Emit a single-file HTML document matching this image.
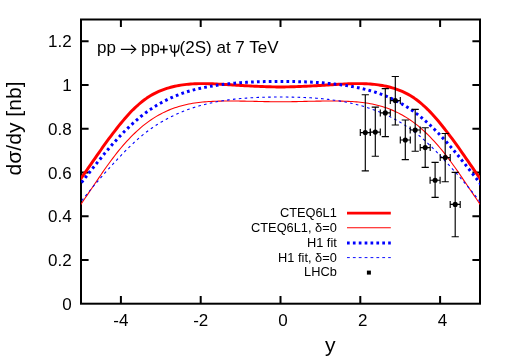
<!DOCTYPE html>
<html><head><meta charset="utf-8"><title>plot</title>
<style>html,body{margin:0;padding:0;background:#fff;overflow:hidden}svg{display:block;will-change:transform}text{font-family:"Liberation Sans",sans-serif;fill:#000}.s{font-family:"Liberation Serif",serif}</style>
</head><body>
<svg width="510" height="357" viewBox="0 0 510 357">
<rect x="0" y="0" width="510" height="357" fill="#fff"/>
<defs><clipPath id="c"><rect x="81.0" y="19.5" width="399.0" height="284.2"/></clipPath></defs>
<g stroke="#000" stroke-width="2" fill="none" stroke-linecap="butt">
<rect x="81.0" y="19.5" width="399.0" height="284.2"/>
<path d="M120.90,303.7 V296.09999999999997 M120.90,19.5 V27.1 M200.70,303.7 V296.09999999999997 M200.70,19.5 V27.1 M280.50,303.7 V296.09999999999997 M280.50,19.5 V27.1 M360.30,303.7 V296.09999999999997 M360.30,19.5 V27.1 M440.10,303.7 V296.09999999999997 M440.10,19.5 V27.1 M81.0,259.98 H88.6 M480.0,259.98 H472.4 M81.0,216.25 H88.6 M480.0,216.25 H472.4 M81.0,172.53 H88.6 M480.0,172.53 H472.4 M81.0,128.81 H88.6 M480.0,128.81 H472.4 M81.0,85.08 H88.6 M480.0,85.08 H472.4 M81.0,41.36 H88.6 M480.0,41.36 H472.4"/>
</g>
<g clip-path="url(#c)" fill="none" stroke-linejoin="round">
<path d="M77.0,184.07 L81.0,178.40 L83.0,175.57 L85.0,172.72 L87.0,169.85 L89.0,166.96 L91.0,164.07 L93.0,161.18 L95.0,158.30 L97.0,155.43 L99.0,152.58 L101.0,149.75 L102.9,146.95 L104.9,144.17 L106.9,141.43 L108.9,138.71 L110.9,136.03 L112.9,133.39 L114.9,130.79 L116.9,128.22 L118.9,125.70 L120.9,123.23 L122.9,120.82 L124.9,118.46 L126.9,116.18 L128.9,113.97 L130.9,111.85 L132.9,109.82 L134.9,107.88 L136.9,106.02 L138.9,104.26 L140.8,102.58 L142.8,100.99 L144.8,99.50 L146.8,98.09 L148.8,96.77 L150.8,95.54 L152.8,94.39 L154.8,93.33 L156.8,92.34 L158.8,91.42 L160.8,90.58 L162.8,89.80 L164.8,89.08 L166.8,88.42 L168.8,87.81 L170.8,87.26 L172.8,86.76 L174.8,86.30 L176.8,85.88 L178.8,85.51 L180.8,85.17 L182.7,84.87 L184.7,84.61 L186.7,84.38 L188.7,84.19 L190.7,84.03 L192.7,83.89 L194.7,83.79 L196.7,83.71 L198.7,83.65 L200.7,83.62 L202.7,83.61 L204.7,83.62 L206.7,83.65 L208.7,83.69 L210.7,83.75 L212.7,83.82 L214.7,83.90 L216.7,83.99 L218.7,84.10 L220.7,84.20 L222.6,84.32 L224.6,84.43 L226.6,84.55 L228.6,84.67 L230.6,84.80 L232.6,84.92 L234.6,85.04 L236.6,85.17 L238.6,85.29 L240.6,85.41 L242.6,85.54 L244.6,85.66 L246.6,85.77 L248.6,85.89 L250.6,86.00 L252.6,86.11 L254.6,86.21 L256.6,86.31 L258.6,86.40 L260.6,86.49 L262.5,86.57 L264.5,86.64 L266.5,86.71 L268.5,86.77 L270.5,86.82 L272.5,86.87 L274.5,86.90 L276.5,86.93 L278.5,86.94 L280.5,86.95 L282.5,86.94 L284.5,86.93 L286.5,86.90 L288.5,86.87 L290.5,86.82 L292.5,86.77 L294.5,86.71 L296.5,86.64 L298.5,86.57 L300.5,86.49 L302.4,86.40 L304.4,86.31 L306.4,86.21 L308.4,86.11 L310.4,86.00 L312.4,85.89 L314.4,85.77 L316.4,85.66 L318.4,85.54 L320.4,85.41 L322.4,85.29 L324.4,85.17 L326.4,85.04 L328.4,84.92 L330.4,84.80 L332.4,84.67 L334.4,84.55 L336.4,84.43 L338.4,84.32 L340.4,84.20 L342.3,84.10 L344.3,83.99 L346.3,83.90 L348.3,83.82 L350.3,83.75 L352.3,83.69 L354.3,83.65 L356.3,83.62 L358.3,83.61 L360.3,83.62 L362.3,83.65 L364.3,83.71 L366.3,83.79 L368.3,83.89 L370.3,84.03 L372.3,84.19 L374.3,84.38 L376.3,84.61 L378.3,84.87 L380.2,85.17 L382.2,85.51 L384.2,85.88 L386.2,86.30 L388.2,86.76 L390.2,87.26 L392.2,87.81 L394.2,88.42 L396.2,89.08 L398.2,89.80 L400.2,90.58 L402.2,91.42 L404.2,92.34 L406.2,93.33 L408.2,94.39 L410.2,95.54 L412.2,96.77 L414.2,98.09 L416.2,99.50 L418.2,100.99 L420.2,102.58 L422.1,104.26 L424.1,106.02 L426.1,107.88 L428.1,109.82 L430.1,111.85 L432.1,113.97 L434.1,116.18 L436.1,118.46 L438.1,120.82 L440.1,123.23 L442.1,125.70 L444.1,128.22 L446.1,130.79 L448.1,133.39 L450.1,136.03 L452.1,138.71 L454.1,141.43 L456.1,144.17 L458.1,146.95 L460.1,149.75 L462.0,152.58 L464.0,155.43 L466.0,158.30 L468.0,161.18 L470.0,164.07 L472.0,166.96 L474.0,169.85 L476.0,172.72 L478.0,175.57 L480.0,178.40 L484.0,184.07" stroke="#ff0000" stroke-width="2.95"/>
<path d="M77.0,210.01 L81.0,204.16 L83.0,201.24 L85.0,198.30 L87.0,195.35 L89.0,192.40 L91.0,189.44 L93.0,186.48 L95.0,183.53 L97.0,180.59 L99.0,177.66 L101.0,174.76 L102.9,171.89 L104.9,169.04 L106.9,166.23 L108.9,163.47 L110.9,160.75 L112.9,158.07 L114.9,155.46 L116.9,152.90 L118.9,150.41 L120.9,147.99 L122.9,145.64 L124.9,143.36 L126.9,141.15 L128.9,139.01 L130.9,136.94 L132.9,134.94 L134.9,133.00 L136.9,131.14 L138.9,129.34 L140.8,127.61 L142.8,125.94 L144.8,124.35 L146.8,122.82 L148.8,121.35 L150.8,119.96 L152.8,118.62 L154.8,117.35 L156.8,116.15 L158.8,115.00 L160.8,113.91 L162.8,112.88 L164.8,111.91 L166.8,110.99 L168.8,110.13 L170.8,109.32 L172.8,108.55 L174.8,107.84 L176.8,107.17 L178.8,106.55 L180.8,105.97 L182.7,105.44 L184.7,104.94 L186.7,104.49 L188.7,104.07 L190.7,103.68 L192.7,103.33 L194.7,103.02 L196.7,102.73 L198.7,102.47 L200.7,102.24 L202.7,102.04 L204.7,101.86 L206.7,101.70 L208.7,101.56 L210.7,101.45 L212.7,101.35 L214.7,101.26 L216.7,101.19 L218.7,101.14 L220.7,101.09 L222.6,101.06 L224.6,101.03 L226.6,101.01 L228.6,101.00 L230.6,101.00 L232.6,101.01 L234.6,101.02 L236.6,101.04 L238.6,101.06 L240.6,101.09 L242.6,101.12 L244.6,101.15 L246.6,101.19 L248.6,101.23 L250.6,101.28 L252.6,101.32 L254.6,101.37 L256.6,101.41 L258.6,101.46 L260.6,101.50 L262.5,101.54 L264.5,101.58 L266.5,101.62 L268.5,101.65 L270.5,101.69 L272.5,101.71 L274.5,101.73 L276.5,101.75 L278.5,101.76 L280.5,101.76 L282.5,101.76 L284.5,101.75 L286.5,101.73 L288.5,101.71 L290.5,101.69 L292.5,101.65 L294.5,101.62 L296.5,101.58 L298.5,101.54 L300.5,101.50 L302.4,101.46 L304.4,101.41 L306.4,101.37 L308.4,101.32 L310.4,101.28 L312.4,101.23 L314.4,101.19 L316.4,101.15 L318.4,101.12 L320.4,101.09 L322.4,101.06 L324.4,101.04 L326.4,101.02 L328.4,101.01 L330.4,101.00 L332.4,101.00 L334.4,101.01 L336.4,101.03 L338.4,101.06 L340.4,101.09 L342.3,101.14 L344.3,101.19 L346.3,101.26 L348.3,101.35 L350.3,101.45 L352.3,101.56 L354.3,101.70 L356.3,101.86 L358.3,102.04 L360.3,102.24 L362.3,102.47 L364.3,102.73 L366.3,103.02 L368.3,103.33 L370.3,103.68 L372.3,104.07 L374.3,104.49 L376.3,104.94 L378.3,105.44 L380.2,105.97 L382.2,106.55 L384.2,107.17 L386.2,107.84 L388.2,108.55 L390.2,109.32 L392.2,110.13 L394.2,110.99 L396.2,111.91 L398.2,112.88 L400.2,113.91 L402.2,115.00 L404.2,116.15 L406.2,117.35 L408.2,118.62 L410.2,119.96 L412.2,121.35 L414.2,122.82 L416.2,124.35 L418.2,125.94 L420.2,127.61 L422.1,129.34 L424.1,131.14 L426.1,133.00 L428.1,134.94 L430.1,136.94 L432.1,139.01 L434.1,141.15 L436.1,143.36 L438.1,145.64 L440.1,147.99 L442.1,150.41 L444.1,152.90 L446.1,155.46 L448.1,158.07 L450.1,160.75 L452.1,163.47 L454.1,166.23 L456.1,169.04 L458.1,171.89 L460.1,174.76 L462.0,177.66 L464.0,180.59 L466.0,183.53 L468.0,186.48 L470.0,189.44 L472.0,192.40 L474.0,195.35 L476.0,198.30 L478.0,201.24 L480.0,204.16 L484.0,210.01" stroke="#ff0000" stroke-width="1.1"/>
<path d="M77.0,188.33 L81.0,183.20 L83.0,180.65 L85.0,178.09 L87.0,175.54 L89.0,173.00 L91.0,170.46 L93.0,167.94 L95.0,165.43 L97.0,162.93 L99.0,160.46 L101.0,158.00 L102.9,155.57 L104.9,153.16 L106.9,150.79 L108.9,148.44 L110.9,146.12 L112.9,143.84 L114.9,141.59 L116.9,139.39 L118.9,137.22 L120.9,135.10 L122.9,133.02 L124.9,130.99 L126.9,129.00 L128.9,127.07 L130.9,125.18 L132.9,123.34 L134.9,121.55 L136.9,119.82 L138.9,118.14 L140.8,116.51 L142.8,114.93 L144.8,113.41 L146.8,111.94 L148.8,110.52 L150.8,109.14 L152.8,107.82 L154.8,106.54 L156.8,105.31 L158.8,104.13 L160.8,102.99 L162.8,101.90 L164.8,100.85 L166.8,99.84 L168.8,98.88 L170.8,97.95 L172.8,97.07 L174.8,96.22 L176.8,95.41 L178.8,94.64 L180.8,93.90 L182.7,93.19 L184.7,92.52 L186.7,91.88 L188.7,91.27 L190.7,90.69 L192.7,90.13 L194.7,89.61 L196.7,89.11 L198.7,88.63 L200.7,88.18 L202.7,87.75 L204.7,87.35 L206.7,86.96 L208.7,86.60 L210.7,86.25 L212.7,85.92 L214.7,85.60 L216.7,85.30 L218.7,85.02 L220.7,84.75 L222.6,84.49 L224.6,84.24 L226.6,84.01 L228.6,83.79 L230.6,83.58 L232.6,83.39 L234.6,83.20 L236.6,83.03 L238.6,82.87 L240.6,82.71 L242.6,82.57 L244.6,82.44 L246.6,82.32 L248.6,82.21 L250.6,82.11 L252.6,82.01 L254.6,81.93 L256.6,81.85 L258.6,81.78 L260.6,81.72 L262.5,81.67 L264.5,81.62 L266.5,81.58 L268.5,81.54 L270.5,81.52 L272.5,81.49 L274.5,81.48 L276.5,81.46 L278.5,81.46 L280.5,81.46 L282.5,81.46 L284.5,81.46 L286.5,81.48 L288.5,81.49 L290.5,81.52 L292.5,81.54 L294.5,81.58 L296.5,81.62 L298.5,81.67 L300.5,81.72 L302.4,81.78 L304.4,81.85 L306.4,81.93 L308.4,82.01 L310.4,82.11 L312.4,82.21 L314.4,82.32 L316.4,82.44 L318.4,82.57 L320.4,82.71 L322.4,82.87 L324.4,83.03 L326.4,83.20 L328.4,83.39 L330.4,83.58 L332.4,83.79 L334.4,84.01 L336.4,84.24 L338.4,84.49 L340.4,84.75 L342.3,85.02 L344.3,85.30 L346.3,85.60 L348.3,85.92 L350.3,86.25 L352.3,86.60 L354.3,86.96 L356.3,87.35 L358.3,87.75 L360.3,88.18 L362.3,88.63 L364.3,89.11 L366.3,89.61 L368.3,90.13 L370.3,90.69 L372.3,91.27 L374.3,91.88 L376.3,92.52 L378.3,93.19 L380.2,93.90 L382.2,94.64 L384.2,95.41 L386.2,96.22 L388.2,97.07 L390.2,97.95 L392.2,98.88 L394.2,99.84 L396.2,100.85 L398.2,101.90 L400.2,102.99 L402.2,104.13 L404.2,105.31 L406.2,106.54 L408.2,107.82 L410.2,109.14 L412.2,110.52 L414.2,111.94 L416.2,113.41 L418.2,114.93 L420.2,116.51 L422.1,118.14 L424.1,119.82 L426.1,121.55 L428.1,123.34 L430.1,125.18 L432.1,127.07 L434.1,129.00 L436.1,130.99 L438.1,133.02 L440.1,135.10 L442.1,137.22 L444.1,139.39 L446.1,141.59 L448.1,143.84 L450.1,146.12 L452.1,148.44 L454.1,150.79 L456.1,153.16 L458.1,155.57 L460.1,158.00 L462.0,160.46 L464.0,162.93 L466.0,165.43 L468.0,167.94 L470.0,170.46 L472.0,173.00 L474.0,175.54 L476.0,178.09 L478.0,180.65 L480.0,183.20 L484.0,188.33" stroke="#0000ff" stroke-width="3.0" stroke-dasharray="2.7 3.204" stroke-dashoffset="-1.4"/>
<path d="M77.0,206.97 L81.0,201.74 L83.0,199.13 L85.0,196.58 L87.0,194.06 L89.0,191.59 L91.0,189.16 L93.0,186.77 L95.0,184.41 L97.0,182.07 L99.0,179.77 L101.0,177.48 L102.9,175.22 L104.9,172.97 L106.9,170.75 L108.9,168.53 L110.9,166.33 L112.9,164.14 L114.9,161.96 L116.9,159.81 L118.9,157.67 L120.9,155.55 L122.9,153.46 L124.9,151.41 L126.9,149.39 L128.9,147.41 L130.9,145.47 L132.9,143.57 L134.9,141.73 L136.9,139.93 L138.9,138.19 L140.8,136.50 L142.8,134.87 L144.8,133.28 L146.8,131.75 L148.8,130.26 L150.8,128.83 L152.8,127.44 L154.8,126.09 L156.8,124.79 L158.8,123.54 L160.8,122.33 L162.8,121.16 L164.8,120.03 L166.8,118.94 L168.8,117.89 L170.8,116.87 L172.8,115.90 L174.8,114.95 L176.8,114.05 L178.8,113.17 L180.8,112.33 L182.7,111.52 L184.7,110.74 L186.7,109.99 L188.7,109.27 L190.7,108.57 L192.7,107.91 L194.7,107.27 L196.7,106.66 L198.7,106.07 L200.7,105.51 L202.7,104.97 L204.7,104.46 L206.7,103.96 L208.7,103.50 L210.7,103.05 L212.7,102.62 L214.7,102.22 L216.7,101.83 L218.7,101.47 L220.7,101.12 L222.6,100.79 L224.6,100.48 L226.6,100.19 L228.6,99.91 L230.6,99.65 L232.6,99.40 L234.6,99.17 L236.6,98.95 L238.6,98.75 L240.6,98.56 L242.6,98.39 L244.6,98.23 L246.6,98.08 L248.6,97.94 L250.6,97.82 L252.6,97.70 L254.6,97.60 L256.6,97.51 L258.6,97.42 L260.6,97.35 L262.5,97.29 L264.5,97.23 L266.5,97.18 L268.5,97.14 L270.5,97.11 L272.5,97.09 L274.5,97.07 L276.5,97.05 L278.5,97.05 L280.5,97.04 L282.5,97.05 L284.5,97.05 L286.5,97.07 L288.5,97.09 L290.5,97.11 L292.5,97.14 L294.5,97.18 L296.5,97.23 L298.5,97.29 L300.5,97.35 L302.4,97.42 L304.4,97.51 L306.4,97.60 L308.4,97.70 L310.4,97.82 L312.4,97.94 L314.4,98.08 L316.4,98.23 L318.4,98.39 L320.4,98.56 L322.4,98.75 L324.4,98.95 L326.4,99.17 L328.4,99.40 L330.4,99.65 L332.4,99.91 L334.4,100.19 L336.4,100.48 L338.4,100.79 L340.4,101.12 L342.3,101.47 L344.3,101.83 L346.3,102.22 L348.3,102.62 L350.3,103.05 L352.3,103.50 L354.3,103.96 L356.3,104.46 L358.3,104.97 L360.3,105.51 L362.3,106.07 L364.3,106.66 L366.3,107.27 L368.3,107.91 L370.3,108.57 L372.3,109.27 L374.3,109.99 L376.3,110.74 L378.3,111.52 L380.2,112.33 L382.2,113.17 L384.2,114.05 L386.2,114.95 L388.2,115.90 L390.2,116.87 L392.2,117.89 L394.2,118.94 L396.2,120.03 L398.2,121.16 L400.2,122.33 L402.2,123.54 L404.2,124.79 L406.2,126.09 L408.2,127.44 L410.2,128.83 L412.2,130.26 L414.2,131.75 L416.2,133.28 L418.2,134.87 L420.2,136.50 L422.1,138.19 L424.1,139.93 L426.1,141.73 L428.1,143.57 L430.1,145.47 L432.1,147.41 L434.1,149.39 L436.1,151.41 L438.1,153.46 L440.1,155.55 L442.1,157.67 L444.1,159.81 L446.1,161.96 L448.1,164.14 L450.1,166.33 L452.1,168.53 L454.1,170.75 L456.1,172.97 L458.1,175.22 L460.1,177.48 L462.0,179.77 L464.0,182.07 L466.0,184.41 L468.0,186.77 L470.0,189.16 L472.0,191.59 L474.0,194.06 L476.0,196.58 L478.0,199.13 L480.0,201.74 L484.0,206.97" stroke="#0000ff" stroke-width="1.1" stroke-dasharray="2.6 3.28" stroke-dashoffset="-2"/>
</g>
<g stroke="#000" stroke-width="1.15" fill="none">
<path d="M365.3,94.7 V170.8 M361.7,94.7 H368.90000000000003 M361.7,170.8 H368.90000000000003 M360.3,132.6 H370.3 M360.3,129.1 V136.1 M370.3,129.1 V136.1"/>
<path d="M375.3,107.1 V156.2 M371.7,107.1 H378.90000000000003 M371.7,156.2 H378.90000000000003 M370.3,132.1 H380.3 M370.3,128.6 V135.6 M380.3,128.6 V135.6"/>
<path d="M385.3,88.6 V136.6 M381.7,88.6 H388.90000000000003 M381.7,136.6 H388.90000000000003 M380.3,112.9 H390.3 M380.3,109.4 V116.4 M390.3,109.4 V116.4"/>
<path d="M395.3,76.5 V125.0 M391.7,76.5 H398.90000000000003 M391.7,125.0 H398.90000000000003 M390.3,100.6 H400.3 M390.3,97.1 V104.1 M400.3,97.1 V104.1"/>
<path d="M405.3,120.0 V159.6 M401.7,120.0 H408.90000000000003 M401.7,159.6 H408.90000000000003 M400.3,140.0 H410.3 M400.3,136.5 V143.5 M410.3,136.5 V143.5"/>
<path d="M415.2,109.4 V151.2 M411.59999999999997,109.4 H418.8 M411.59999999999997,151.2 H418.8 M410.2,130.0 H420.2 M410.2,126.5 V133.5 M420.2,126.5 V133.5"/>
<path d="M425.2,127.7 V167.4 M421.59999999999997,127.7 H428.8 M421.59999999999997,167.4 H428.8 M420.2,147.6 H430.2 M420.2,144.1 V151.1 M430.2,144.1 V151.1"/>
<path d="M435.1,162.3 V197.3 M431.5,162.3 H438.70000000000005 M431.5,197.3 H438.70000000000005 M430.1,180.2 H440.1 M430.1,176.7 V183.7 M440.1,176.7 V183.7"/>
<path d="M445.2,133.5 V181.7 M441.59999999999997,133.5 H448.8 M441.59999999999997,181.7 H448.8 M440.2,157.6 H450.2 M440.2,154.1 V161.1 M450.2,154.1 V161.1"/>
<path d="M455.2,172.4 V236.7 M451.59999999999997,172.4 H458.8 M451.59999999999997,236.7 H458.8 M450.2,204.4 H460.2 M450.2,200.9 V207.9 M460.2,200.9 V207.9"/>
</g>
<g fill="#000">
<circle cx="365.3" cy="132.6" r="2.55"/>
<circle cx="375.3" cy="132.1" r="2.55"/>
<circle cx="385.3" cy="112.9" r="2.55"/>
<circle cx="395.3" cy="100.6" r="2.55"/>
<circle cx="405.3" cy="140.0" r="2.55"/>
<circle cx="415.2" cy="130.0" r="2.55"/>
<circle cx="425.2" cy="147.6" r="2.55"/>
<circle cx="435.1" cy="180.2" r="2.55"/>
<circle cx="445.2" cy="157.6" r="2.55"/>
<circle cx="455.2" cy="204.4" r="2.55"/>
</g>
<g font-size="17">
<text x="71.6" y="309.70" text-anchor="end">0</text>
<text x="71.6" y="265.98" text-anchor="end">0.2</text>
<text x="71.6" y="222.25" text-anchor="end">0.4</text>
<text x="71.6" y="178.53" text-anchor="end">0.6</text>
<text x="71.6" y="134.81" text-anchor="end">0.8</text>
<text x="71.6" y="91.08" text-anchor="end">1</text>
<text x="71.6" y="47.36" text-anchor="end">1.2</text>
<text x="120.90" y="326.2" text-anchor="middle">-4</text>
<text x="200.70" y="326.2" text-anchor="middle">-2</text>
<text x="282.90" y="326.2" text-anchor="middle">0</text>
<text x="362.70" y="326.2" text-anchor="middle">2</text>
<text x="442.50" y="326.2" text-anchor="middle">4</text>
</g>
<text x="325.05" y="352.3" font-size="21.1">y</text>
<text transform="translate(20.6,175.4) rotate(-90)" font-size="21.1">dσ/dy [nb]</text>
<g font-size="17">
<text x="97" y="53.3">pp</text>
<text x="141" y="53.3">pp</text>
<text x="179.6" y="53.3">(2S) at 7 TeV</text>
</g>
<g stroke="#000" fill="none">
<path d="M120.9,49.3 H135.4 M131.1,45.0 L135.8,49.3 L131.1,53.6" stroke-width="1.15"/>
<path d="M160.0,49.5 H167.7 M163.8,45.6 V53.4" stroke-width="1.4"/>
<path d="M169.3,45.7 C170.4,44.9 171.1,45.3 171.1,46.6 L171.1,49.0 C171.1,51.2 172.6,52.4 174.6,52.4 C176.7,52.4 178.4,51.2 178.7,48.4 L179.0,44.8 M174.6,44.7 V56.8" stroke-width="1.3"/>
</g>
<g font-size="12.8" text-anchor="end">
<text x="336.8" y="217.3">CTEQ6L1</text>
<text x="336.8" y="232.3">CTEQ6L1, δ=0</text>
<text x="336.8" y="246.8">H1 fit</text>
<text x="336.8" y="261.6">H1 fit, δ=0</text>
<text x="336.8" y="276.4">LHCb</text>
</g>
<g fill="none">
<path d="M347,213.1 H390.8" stroke="#ff0000" stroke-width="2.9"/>
<path d="M347,227.8 H390.8" stroke="#ff0000" stroke-width="1.1"/>
<path d="M347,243 H390.8" stroke="#0000ff" stroke-width="3.0" stroke-dasharray="2.7 3.18"/>
<path d="M347,257.6 H390.8" stroke="#0000ff" stroke-width="0.95" stroke-dasharray="2.8 3.08"/>
</g>
<rect x="366.9" y="270.6" width="4" height="4" fill="#000"/>
</svg></body></html>
